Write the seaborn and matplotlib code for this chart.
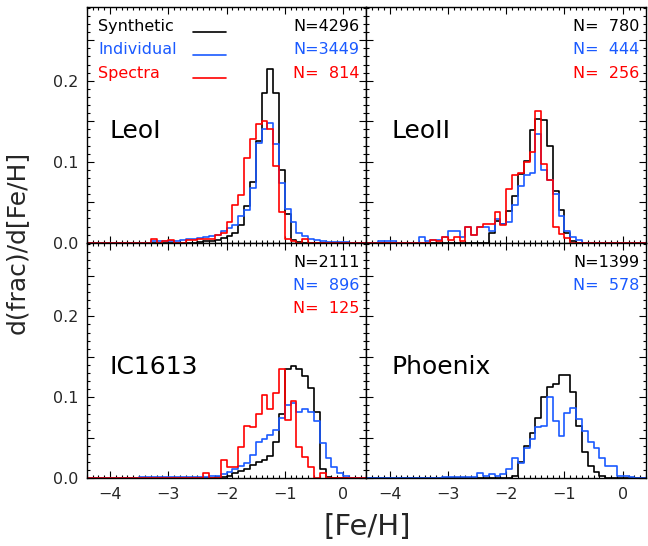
import numpy as np
import pandas as pd
import matplotlib
matplotlib.use("Agg")
import matplotlib.pyplot as plt
import seaborn as sns
from matplotlib.ticker import MultipleLocator, FuncFormatter

# fraction of stars per 0.1 dex bin, each series starts at the given lower bin edge
bin_width = 0.1
bin_range = (-4.4, 0.4)

leoi_syn_start = -2.5
leoi_syn = [0.001, 0.002, 0.002, 0.003, 0.006, 0.008, 0.012, 0.022, 0.045, 0.075,
            0.125, 0.185, 0.215, 0.185, 0.090, 0.035, 0.003, 0.001]
leoi_ind_start = -3.3
leoi_ind = [0.002, 0.002, 0.002, 0.002, 0.002, 0.003, 0.004, 0.005, 0.006, 0.007,
            0.008, 0.010, 0.014, 0.018, 0.022, 0.033, 0.040, 0.068, 0.123, 0.141,
            0.148, 0.122, 0.074, 0.042, 0.025, 0.012, 0.008, 0.005, 0.003, 0.002,
            0.001, 0.001, 0.001, 0.001]
leoi_spe_start = -3.3
leoi_spe = [0.004, 0.0, 0.002, 0.003, 0.0, 0.0, 0.003, 0.003, 0.004, 0.004,
            0.005, 0.010, 0.012, 0.025, 0.047, 0.059, 0.104, 0.128, 0.146, 0.150,
            0.141, 0.095, 0.038, 0.005, 0.002, 0.0, 0.004]

leoii_syn_start = -2.3
leoii_syn = [0.012, 0.027, 0.023, 0.039, 0.058, 0.085, 0.101, 0.139, 0.153, 0.152,
             0.119, 0.064, 0.041, 0.012, 0.002]
leoii_ind_start = -4.2
leoii_ind = [0.002, 0.002, 0.002, 0.0, 0.0, 0.0, 0.0, 0.007, 0.002, 0.003,
             0.003, 0.007, 0.014, 0.015, 0.007, 0.019, 0.009, 0.020, 0.020, 0.014,
             0.029, 0.023, 0.025, 0.047, 0.070, 0.084, 0.086, 0.134, 0.090, 0.078,
             0.060, 0.033, 0.015, 0.007, 0.003]
leoii_spe_start = -3.3
leoii_spe = [0.003, 0.002, 0.007, 0.003, 0.007, 0.002, 0.019, 0.009, 0.019, 0.023,
             0.023, 0.038, 0.022, 0.066, 0.084, 0.086, 0.100, 0.112, 0.163, 0.097,
             0.077, 0.019, 0.011, 0.006]

ic1613_syn_start = -2.2
ic1613_syn = [0.001, 0.002, 0.003, 0.006, 0.009, 0.012, 0.017, 0.020, 0.022, 0.027,
              0.045, 0.080, 0.135, 0.139, 0.135, 0.126, 0.111, 0.082, 0.012, 0.002]
ic1613_ind_start = -3.5
ic1613_ind = [0.001, 0.001, 0.001, 0.001, 0.001, 0.001, 0.001, 0.001, 0.001, 0.001,
              0.001, 0.002, 0.003, 0.003, 0.005, 0.008, 0.011, 0.015, 0.019, 0.029,
              0.045, 0.048, 0.053, 0.060, 0.075, 0.091, 0.093, 0.082, 0.085, 0.082,
              0.071, 0.044, 0.025, 0.014, 0.007, 0.003]
ic1613_spe_start = -2.4
ic1613_spe = [0.007, 0.0, 0.0, 0.023, 0.014, 0.014, 0.039, 0.064, 0.063, 0.079,
              0.103, 0.086, 0.105, 0.135, 0.072, 0.095, 0.039, 0.026, 0.014, 0.0,
              0.007]

phoenix_syn_start = -1.9
phoenix_syn = [0.003, 0.020, 0.040, 0.056, 0.075, 0.101, 0.113, 0.116, 0.128, 0.128,
               0.107, 0.064, 0.033, 0.015, 0.008, 0.003]
phoenix_ind_start = -3.1
phoenix_ind = [0.001, 0.001, 0.001, 0.001, 0.001, 0.001, 0.007, 0.003, 0.005, 0.003,
               0.005, 0.011, 0.025, 0.019, 0.037, 0.049, 0.063, 0.065, 0.100, 0.071,
               0.052, 0.081, 0.087, 0.073, 0.058, 0.045, 0.038, 0.025, 0.015, 0.015,
               0.003, 0.003, 0.001]

galaxies = ["LeoI", "LeoII", "IC1613", "Phoenix"]
counts = {
    "LeoI": ["N=4296", "N=3449", "N=  814"],
    "LeoII": ["N=  780", "N=  444", "N=  256"],
    "IC1613": ["N=2111", "N=  896", "N=  125"],
    "Phoenix": ["N=1399", "N=  578"],
}
series = {
    "LeoI": [(leoi_syn_start, leoi_syn), (leoi_ind_start, leoi_ind), (leoi_spe_start, leoi_spe)],
    "LeoII": [(leoii_syn_start, leoii_syn), (leoii_ind_start, leoii_ind), (leoii_spe_start, leoii_spe)],
    "IC1613": [(ic1613_syn_start, ic1613_syn), (ic1613_ind_start, ic1613_ind), (ic1613_spe_start, ic1613_spe)],
    "Phoenix": [(phoenix_syn_start, phoenix_syn), (phoenix_ind_start, phoenix_ind)],
}
labels = ["Synthetic", "Individual", "Spectra"]
colors = ["#000000", "#1a5aff", "#ff0000"]


def to_frame(start, values):
    centers = start + 0.05 + 0.1 * np.arange(len(values))
    return pd.DataFrame({"feh": centers, "frac": values})


sns.set_theme(style="ticks")
plt.rcParams["font.family"] = ["DejaVu Sans"]

fig, axes = plt.subplots(2, 2, figsize=(6.48, 5.46), dpi=100, sharex=True, sharey=True)
fig.subplots_adjust(left=0.1338, right=0.997, bottom=0.124, top=0.987, wspace=0, hspace=0)

for ax, name in zip(axes.flat, galaxies):
    for (start, vals), col in zip(series[name], colors):
        sns.histplot(data=to_frame(start, vals), x="feh", weights="frac",
                     binwidth=bin_width, binrange=bin_range,
                     element="step", fill=False, color=col, linewidth=1.2, ax=ax)
    ax.set_xlim(-4.4, 0.4)
    ax.set_ylim(0, 0.291)
    ax.set_xlabel("")
    ax.set_ylabel("")
    ax.xaxis.set_major_locator(MultipleLocator(1))
    ax.xaxis.set_minor_locator(MultipleLocator(0.1))
    ax.yaxis.set_major_locator(MultipleLocator(0.05))
    ax.yaxis.set_minor_locator(MultipleLocator(0.01))
    ax.yaxis.set_major_formatter(FuncFormatter(
        lambda v, p: f"{v:.1f}" if abs(v * 10 - round(v * 10)) < 1e-6 else ""))
    ax.tick_params(which="both", direction="in", top=True, right=True,
                   labelsize=11.5, color="black", width=0.8)
    ax.tick_params(which="major", length=5, pad=6)
    ax.tick_params(which="minor", length=2.5)
    for sp in ax.spines.values():
        sp.set_linewidth(1.0)
        sp.set_color("black")

    for i, txt in enumerate(counts[name]):
        ax.text(0.975, 0.898 - 0.099 * i, txt, transform=ax.transAxes, ha="right",
                va="baseline", color=colors[i], fontsize=11.5)
    lx = 0.083 if name in ("LeoI", "IC1613") else 0.09
    ax.text(lx, 0.443, name, transform=ax.transAxes, ha="left", va="baseline",
            fontsize=18, color="black")

ax0 = axes[0, 0]
for i, (lab, col) in enumerate(zip(labels, colors)):
    y = 0.896 - 0.099 * i
    ax0.text(0.04, y + 0.002, lab, transform=ax0.transAxes, ha="left", va="baseline",
             color=col, fontsize=11.5)
    ax0.plot([0.38, 0.498], [y, y], transform=ax0.transAxes, color=col, linewidth=1.2)

fig.text(0.566, 0.035, "[Fe/H]", ha="center", va="center", fontsize=21)
fig.text(0.026, 0.556, "d(frac)/d[Fe/H]", ha="center", va="center", rotation=90, fontsize=18)

fig.savefig("out.png", dpi=100)
plt.close(fig)
